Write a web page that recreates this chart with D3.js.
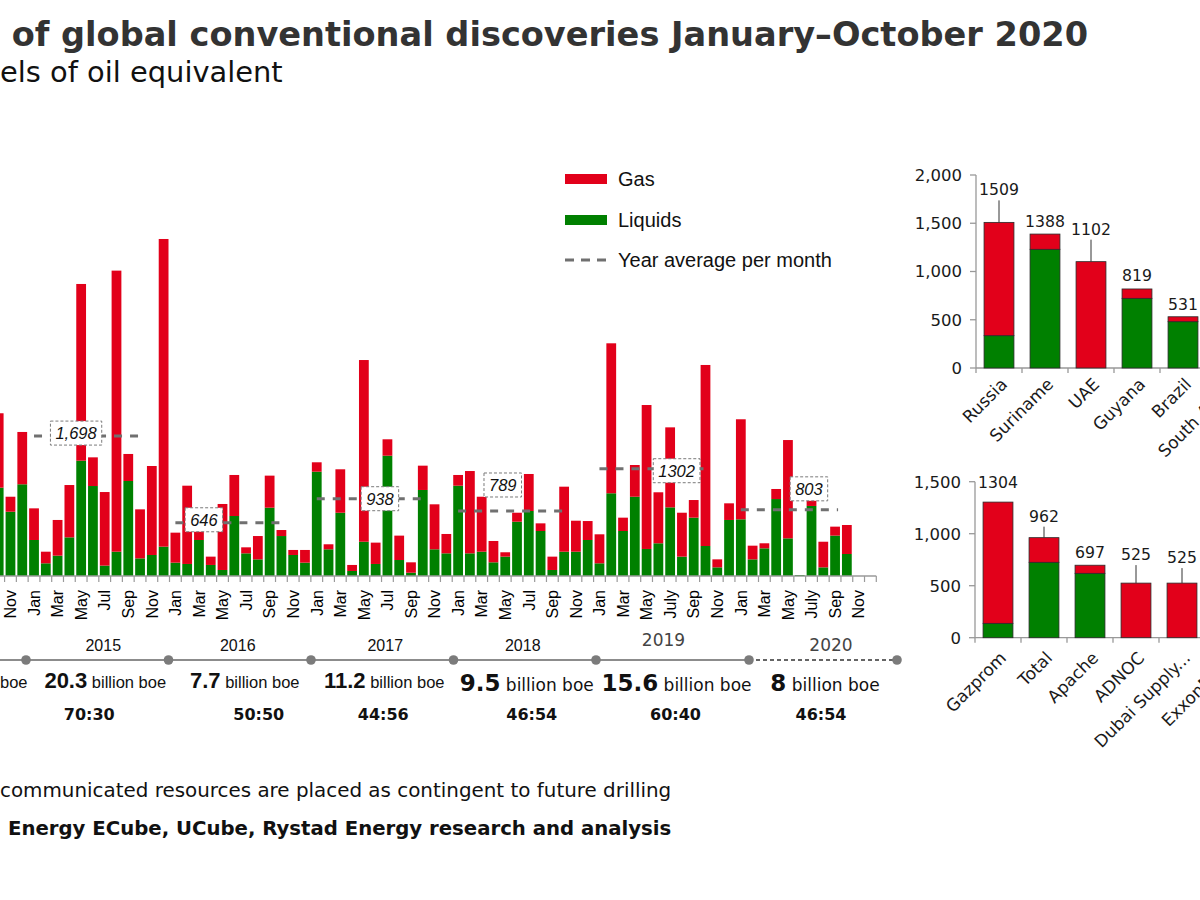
<!DOCTYPE html>
<html><head><meta charset="utf-8">
<script src="https://cdn.jsdelivr.net/npm/d3@7"></script>
<style>body{margin:0;background:#fff} svg{display:block;background:#fff}</style>
</head><body>
<svg id="chart" width="1200" height="900"></svg>
<script>
// ================= DATA =================
// (texts are the parts visible in the reference picture, which is cropped on the left)
const titleText = "of global conventional discoveries January\u2013October 2020";
const subtitleText = "els of oil equivalent";
const footnoteText = "communicated resources are placed as contingent to future drilling";
const sourceText = "Energy ECube, UCube, Rystad Energy research and analysis";

// Monthly discoveries (million boe), first visible month = Oct 2014, last = Dec 2020
const startYear = 2014, startMonth = 9;
const gasValues = [
  903, 182, 635,
  384, 141, 433, 635, 2145, 348, 893, 3411, 328, 595, 1080, 3734,
  364, 950, 118, 101, 801, 498, 73, 283, 389, 73, 61, 154,
  114, 61, 527, 73, 2205, 259, 199, 296, 126, 295, 546, 235,
  130, 999, 667, 259, 53, 109, 449, 93, 162, 789, 376, 230,
  352, 1820, 162, 385, 1747, 619, 971, 533, 214, 2197, 97, 202,
  1214, 166, 61, 122, 1193, 0, 150, 311, 109, 352, null, null
];
const liquidsValues = [
  1072, 780, 1113,
  437, 154, 247, 469, 1399, 1092, 126, 295, 1153, 214, 255, 356,
  162, 146, 437, 134, 73, 728, 275, 202, 829, 485, 255, 162,
  1266, 324, 768, 61, 416, 146, 1460, 194, 40, 1044, 324, 275,
  1096, 275, 295, 166, 235, 659, 789, 546, 73, 295, 295, 437,
  154, 1004, 546, 962, 328, 397, 833, 235, 708, 364, 105, 680,
  688, 202, 336, 934, 457, 12, 850, 105, 490, 267, null, null
];
const tickLabelsOld = ["Jan", "", "Mar", "", "May", "", "Jul", "", "Sep", "", "Nov", ""];
const tickLabelsNew = ["Jan", "", "Mar", "", "May", "", "July", "", "Sep", "", "Nov", ""];

// Year averages per month
const avgYears = [2014, 2015, 2016, 2017, 2018, 2019, 2020];
const avgValues = [1432, 1698, 646, 938, 789, 1302, 803];
const avgLabels = ["", "1,698", "646", "938", "789", "1302", "803"];
const avgEndMonth = [9, 9, 9, 9, 9, 9, 8];

// Timeline
const timelineYears = [2015, 2016, 2017, 2018, 2019, 2020];
const totalBillion = ["20.3", "7.7", "11.2", "9.5", "15.6", "8"];
const gasLiquidRatio = ["70:30", "50:50", "44:56", "46:54", "60:40", "46:54"];
const cutTimelineText = "boe"; // end of the 2014 entry, cut by the left edge

// Top countries
const countries = ["Russia", "Suriname", "UAE", "Guyana", "Brazil", "South Africa"];
const countryTotals = [1509, 1388, 1102, 819, 531, null];
const countryLiquids = [335, 1230, 0, 722, 480, null];
const countryTicks = [0, 500, 1000, 1500, 2000];

// Top companies
const companies = ["Gazprom", "Total", "Apache", "ADNOC", "Dubai Supply...", "ExxonMobil"];
const companyTotals = [1304, 962, 697, 525, 525, null];
const companyLiquids = [138, 725, 619, 0, 0, null];
const companyTicks = [0, 500, 1000, 1500];

// ================= LAYOUT / STYLE =================
const ARIAL = "'Liberation Sans', Arial, sans-serif";
const VERD = "'DejaVu Sans', Verdana, sans-serif";
const RED = "#e2001a", GREEN = "#008000";
const AVG_COLOR = "#707070";
const avgLabelPos = [null, 3.57, 2.42, 5.36, 3.79, 6.55, 5.78]; // months from Jan centre
const avgLabelDy = [0, -3, -3, 0, -26, 2, -21];
const yearLabelDx = [6, -2, 3, -2, -9, 8];
const billionDx = [8, 5, 2, 2, 4, 2];
const ratioDx = [-8, 19, 1, 7, 3, -2];
const countryLift = [27, 7, 27, 8, 7, 0];
const countryLeader = [true, false, true, false, false, false];
const companyLift = [14, 16, 7, 23, 20, 0];
const companyLeader = [false, true, false, true, true, false];

const svg = d3.select("#chart");

// ---------- Titles ----------
svg.append("text").attr("x", 1088).attr("y", 46).attr("text-anchor", "end")
  .style("font-family", VERD).style("font-weight", "bold").style("font-size", "33.6px")
  .style("fill", "#333").text(titleText);
svg.append("text").attr("x", 0).attr("y", 82)
  .style("font-family", VERD).style("font-size", "28.9px").style("fill", "#111").text(subtitleText);
svg.append("text").attr("x", 0).attr("y", 797)
  .style("font-family", VERD).style("font-size", "19.9px").style("fill", "#111").text(footnoteText);
svg.append("text").attr("x", 8).attr("y", 835)
  .style("font-family", VERD).style("font-weight", "bold").style("font-size", "19.7px")
  .style("fill", "#111").text(sourceText);

// ---------- Main chart ----------
const keys = gasValues.map((_, i) => {
  const t = startMonth + i;
  return { year: startYear + Math.floor(t / 12), month: t % 12, key: i };
});
const x = d3.scaleBand().domain(keys.map(k => k.key)).range([-7.2, 876.3])
  .paddingInner(0.17).paddingOuter(0.085);
const step = x.step(), bw = x.bandwidth();
const centerAt = i => x(0) + bw / 2 + i * step;
const idxOf = (year, month) => (year - startYear) * 12 + month - startMonth;
const y = d3.scaleLinear().domain([0, 5000]).range([576, 164]);

const main = svg.append("g");
const bars = main.append("g");
keys.forEach((k, i) => {
  const liq = liquidsValues[i], gas = gasValues[i];
  if (liq == null) return;
  bars.append("rect").attr("x", x(k.key)).attr("width", bw)
    .attr("y", y(liq)).attr("height", y(0) - y(liq)).attr("fill", GREEN);
  if (gas > 0) bars.append("rect").attr("x", x(k.key)).attr("width", bw)
    .attr("y", y(liq + gas)).attr("height", y(liq) - y(liq + gas)).attr("fill", RED);
});

// axis
const r0 = x.range()[0], r1 = x.range()[1];
main.append("line").attr("x1", r0).attr("x2", r1).attr("y1", y(0)).attr("y2", y(0))
  .attr("stroke", "#9a9a9a").attr("stroke-width", 1.5);
d3.range(keys.length + 1).forEach(i => {
  const bx = r0 + i * step;
  main.append("line").attr("x1", bx).attr("x2", bx).attr("y1", y(0)).attr("y2", y(0) + 6)
    .attr("stroke", "#9a9a9a").attr("stroke-width", 1.2);
});
keys.forEach((k, i) => {
  const lab = (k.year >= 2019 ? tickLabelsNew : tickLabelsOld)[k.month];
  if (!lab) return;
  main.append("text").attr("transform", `translate(${centerAt(i)},590) rotate(-90)`)
    .attr("text-anchor", "end").attr("dy", "0.36em")
    .style("font-family", ARIAL).style("font-size", "16px").style("fill", "#000").text(lab);
});

// average lines
avgYears.forEach((yr, j) => {
  const ly = y(avgValues[j]);
  const xa = centerAt(idxOf(yr, 0)), xb = centerAt(idxOf(yr, avgEndMonth[j])) + 3;
  main.append("line").attr("x1", xa).attr("x2", xb).attr("y1", ly).attr("y2", ly)
    .attr("stroke", AVG_COLOR).attr("stroke-width", 3).attr("stroke-dasharray", "8,8");
});
avgYears.forEach((yr, j) => {
  if (!avgLabels[j]) return;
  const cx = centerAt(idxOf(yr, 0) + avgLabelPos[j]);
  const cy = y(avgValues[j]) + avgLabelDy[j];
  const g = main.append("g");
  const rect = g.append("rect").attr("fill", "#fff").attr("stroke", "#7a7a7a")
    .attr("stroke-width", 1).attr("stroke-dasharray", "3,2");
  const t = g.append("text").attr("x", cx).attr("y", cy).attr("dy", "0.36em").attr("text-anchor", "middle")
    .style("font-family", ARIAL).style("font-style", "italic").style("font-size", "16.5px")
    .style("fill", "#111").text(avgLabels[j]);
  const w = t.node().getComputedTextLength() + 10;
  rect.attr("x", cx - w / 2).attr("y", cy - 12).attr("width", w).attr("height", 24);
});

// legend
const leg = svg.append("g");
leg.append("rect").attr("x", 565).attr("y", 174).attr("width", 42).attr("height", 10).attr("fill", RED);
leg.append("text").attr("x", 618).attr("y", 186).text("Gas");
leg.append("rect").attr("x", 565).attr("y", 215).attr("width", 42).attr("height", 10).attr("fill", GREEN);
leg.append("text").attr("x", 618).attr("y", 227).text("Liquids");
leg.append("line").attr("x1", 565).attr("x2", 609).attr("y1", 260).attr("y2", 260)
  .attr("stroke", AVG_COLOR).attr("stroke-width", 3).attr("stroke-dasharray", "9,7");
leg.append("text").attr("x", 618).attr("y", 267).text("Year average per month");
leg.selectAll("text").style("font-family", ARIAL).style("font-size", "20px").style("fill", "#111");

// ---------- Timeline ----------
const tl = d3.scaleLinear().domain([2015, 2019, 2020, 2021]).range([26, 596, 749, 897]);
const TY = 660;
svg.append("line").attr("x1", tl(2014)).attr("x2", tl(2020)).attr("y1", TY).attr("y2", TY)
  .attr("stroke", "#8c8c8c").attr("stroke-width", 2);
svg.append("line").attr("x1", tl(2020)).attr("x2", tl(2021)).attr("y1", TY).attr("y2", TY)
  .attr("stroke", "#333").attr("stroke-width", 1.4).attr("stroke-dasharray", "4,3");
[...timelineYears, 2021].forEach(yr => {
  svg.append("circle").attr("cx", tl(yr)).attr("cy", TY).attr("r", 4.8).attr("fill", "#7b7b7b");
});
svg.append("text").attr("x", 0).attr("y", 688)
  .style("font-family", ARIAL).style("font-size", "16.5px").style("fill", "#111").text(cutTimelineText);
timelineYears.forEach((yr, j) => {
  const mid = (tl(yr) + tl(yr + 1)) / 2;
  const newStyle = yr >= 2019;
  svg.append("text").attr("x", mid + yearLabelDx[j]).attr("y", yr === 2019 ? 646 : 651).attr("text-anchor", "middle")
    .style("font-family", newStyle ? VERD : ARIAL).style("font-size", newStyle ? "17px" : "16px")
    .style("fill", newStyle ? "#444" : "#111").text(yr);
  const verd = yr >= 2018;
  const t = svg.append("text").attr("x", mid + billionDx[j]).attr("y", verd ? 691 : 688).attr("text-anchor", "middle")
    .style("font-family", verd ? VERD : ARIAL).style("fill", "#111");
  t.append("tspan").style("font-weight", "bold").style("font-size", verd ? "23px" : "22px").text(totalBillion[j]);
  t.append("tspan").style("font-size", verd ? "17px" : "16.5px").text(" billion boe");
  svg.append("text").attr("x", mid + ratioDx[j]).attr("y", 720).attr("text-anchor", "middle")
    .style("font-family", VERD).style("font-weight", "bold").style("font-size", "16px")
    .style("fill", "#111").text(gasLiquidRatio[j]);
});

// ---------- Small charts ----------
function smallChart(cfg) {
  const g = svg.append("g");
  const ys = d3.scaleLinear().domain([0, cfg.max]).range([cfg.y0, cfg.yTop]);
  const xs = d3.scaleBand().domain(cfg.cats).range([cfg.x0, cfg.x0 + cfg.cats.length * 46])
    .paddingInner(0.35).paddingOuter(0.175);
  const st = xs.step();
  g.append("line").attr("x1", cfg.x0).attr("x2", cfg.x0).attr("y1", ys(0)).attr("y2", ys(cfg.max))
    .attr("stroke", "#999").attr("stroke-width", 1.3);
  g.append("line").attr("x1", cfg.x0).attr("x2", cfg.x0 + cfg.cats.length * st).attr("y1", ys(0)).attr("y2", ys(0))
    .attr("stroke", "#999").attr("stroke-width", 1.3);
  cfg.ticks.forEach(v => {
    g.append("line").attr("x1", cfg.x0 - 6).attr("x2", cfg.x0).attr("y1", ys(v)).attr("y2", ys(v))
      .attr("stroke", "#999").attr("stroke-width", 1.3);
    g.append("text").attr("x", cfg.x0 - 14).attr("y", ys(v)).attr("dy", "0.36em").attr("text-anchor", "end")
      .style("font-family", VERD).style("font-size", "16.5px").style("fill", "#1a1a1a")
      .text(d3.format(",")(v));
  });
  cfg.cats.forEach((c, i) => {
    const bx = cfg.x0 + i * st;
    g.append("line").attr("x1", bx).attr("x2", bx).attr("y1", ys(0)).attr("y2", ys(0) + 5)
      .attr("stroke", "#999").attr("stroke-width", 1.3);
    const tot = cfg.totals[i], liq = cfg.liquids[i];
    const cx = xs(c) + xs.bandwidth() / 2;
    if (tot != null) {
      if (liq > 0) g.append("rect").attr("x", xs(c)).attr("width", xs.bandwidth())
        .attr("y", ys(liq)).attr("height", ys(0) - ys(liq)).attr("fill", GREEN)
        .attr("stroke", "#2a2a2a").attr("stroke-width", 0.8);
      if (tot - liq > 0) g.append("rect").attr("x", xs(c)).attr("width", xs.bandwidth())
        .attr("y", ys(tot)).attr("height", ys(liq) - ys(tot)).attr("fill", RED)
        .attr("stroke", "#2a2a2a").attr("stroke-width", 0.8);
      const ty = ys(tot) - cfg.lift[i];
      g.append("text").attr("x", cx).attr("y", ty).attr("text-anchor", "middle")
        .style("font-family", VERD).style("font-size", "15.7px").style("fill", "#1a1a1a").text(tot);
      if (cfg.leader[i]) g.append("line").attr("x1", cx).attr("x2", cx).attr("y1", ty + 5).attr("y2", ys(tot))
        .attr("stroke", "#333").attr("stroke-width", 1);
    }
    g.append("text").attr("transform", `translate(${cx + 5},${ys(0) + cfg.labOff}) rotate(-45)`)
      .attr("text-anchor", "end").attr("dy", "0.36em")
      .style("font-family", VERD).style("font-size", "17px").style("fill", "#1a1a1a").text(c);
  });
}
smallChart({ cats: countries, totals: countryTotals, liquids: countryLiquids, ticks: countryTicks,
  max: 2000, x0: 976, y0: 368, yTop: 175, lift: countryLift, leader: countryLeader, labOff: 13 });
smallChart({ cats: companies, totals: companyTotals, liquids: companyLiquids, ticks: companyTicks,
  max: 1500, x0: 975, y0: 637.7, yTop: 481.7, lift: companyLift, leader: companyLeader, labOff: 17 });
</script>
</body></html>
